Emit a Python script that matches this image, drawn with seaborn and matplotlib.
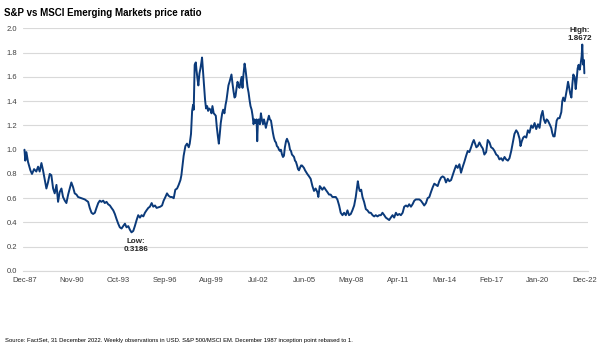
import numpy as np
import pandas as pd
import seaborn as sns
import matplotlib.pyplot as plt


# weekly S&P 500 / MSCI EM ratio (decimal years, Dec-87 = 1988.0)
years = [
    1988.00, 1988.05, 1988.12, 1988.22, 1988.37, 1988.47, 1988.60, 1988.74, 1988.85, 1988.95,
    1989.06, 1989.16, 1989.26, 1989.37, 1989.47, 1989.58, 1989.68, 1989.79, 1989.89, 1990.00,
    1990.10, 1990.20, 1990.31, 1990.41, 1990.52, 1990.62, 1990.73, 1990.83, 1990.93, 1991.04,
    1991.14, 1991.25, 1991.35, 1991.56, 1991.77, 1991.87, 1991.98, 1992.08, 1992.19, 1992.29,
    1992.40, 1992.50, 1992.61, 1992.71, 1992.81, 1992.92, 1993.02, 1993.13, 1993.23, 1993.34,
    1993.44, 1993.55, 1993.65, 1993.75, 1993.86, 1993.96, 1994.07, 1994.17, 1994.28, 1994.38,
    1994.49, 1994.59, 1994.69, 1994.80, 1994.90, 1995.01, 1995.11, 1995.22, 1995.32, 1995.43,
    1995.53, 1995.63, 1995.74, 1995.84, 1995.95, 1996.05, 1996.16, 1996.26,
    1996.49, 1996.60, 1996.70, 1996.81, 1996.91, 1997.01, 1997.12, 1997.22, 1997.33, 1997.43,
    1997.54, 1997.64, 1997.75, 1997.81, 1997.87, 1997.95, 1998.06, 1998.16, 1998.27, 1998.33,
    1998.41, 1998.48, 1998.54, 1998.58, 1998.64, 1998.71, 1998.75, 1998.81, 1998.87, 1998.94,
    1999.00, 1999.06, 1999.10, 1999.15, 1999.21, 1999.29, 1999.35, 1999.42, 1999.48, 1999.54,
    1999.63, 1999.69, 1999.75, 1999.83, 1999.90, 1999.96, 2000.02, 2000.09, 2000.15, 2000.21,
    2000.27, 2000.36, 2000.42, 2000.50, 2000.57, 2000.63, 2000.69, 2000.75, 2000.82, 2000.88,
    2000.94, 2001.00, 2001.07, 2001.13, 2001.19, 2001.26, 2001.32, 2001.38, 2001.44, 2001.51,
    2001.57, 2001.63, 2001.69, 2001.76, 2001.82, 2001.88, 2001.94, 2002.01, 2002.07, 2002.13,
    2002.20, 2002.26, 2002.32, 2002.38, 2002.45, 2002.51, 2002.55, 2002.59, 2002.65, 2002.72,
    2002.78, 2002.84, 2002.91, 2002.97, 2003.03, 2003.09, 2003.16, 2003.22, 2003.28, 2003.34,
    2003.41, 2003.47, 2003.53, 2003.59, 2003.66, 2003.72, 2003.78, 2003.85, 2003.91, 2003.97,
    2004.03, 2004.10, 2004.16, 2004.22, 2004.28, 2004.35, 2004.41, 2004.47, 2004.53, 2004.60,
    2004.66, 2004.72, 2004.79, 2004.85, 2004.91, 2004.97, 2005.04, 2005.10, 2005.16, 2005.22,
    2005.29, 2005.35, 2005.41, 2005.47, 2005.54,
    2005.68, 2005.79, 2005.89, 2006.00, 2006.10, 2006.20, 2006.31, 2006.37, 2006.46, 2006.52,
    2006.62, 2006.73, 2006.83, 2006.94, 2007.04, 2007.14, 2007.25, 2007.35, 2007.46, 2007.56,
    2007.67, 2007.77, 2007.88, 2007.98, 2008.09, 2008.19, 2008.29, 2008.40, 2008.50, 2008.61,
    2008.71, 2008.77, 2008.84, 2008.90, 2008.96, 2009.05, 2009.13, 2009.23, 2009.34, 2009.44,
    2009.55, 2009.65, 2009.76, 2009.86, 2009.96, 2010.07, 2010.17, 2010.28, 2010.38, 2010.49,
    2010.59, 2010.70, 2010.80, 2010.90, 2011.01, 2011.11, 2011.22, 2011.32, 2011.43, 2011.53,
    2011.64, 2011.74, 2011.85, 2011.95, 2012.05, 2012.16, 2012.26, 2012.37, 2012.47, 2012.58,
    2012.68, 2012.78, 2012.89, 2012.99, 2013.10, 2013.20, 2013.31, 2013.41, 2013.52, 2013.62,
    2013.73, 2013.83, 2013.93, 2014.04, 2014.14, 2014.25, 2014.35, 2014.46, 2014.56,
    2014.67, 2014.77, 2014.87, 2014.98, 2015.08, 2015.19, 2015.29, 2015.40, 2015.50, 2015.61,
    2015.71, 2015.81, 2015.92, 2016.02, 2016.09, 2016.17, 2016.25, 2016.34, 2016.44, 2016.55,
    2016.65, 2016.75, 2016.86, 2016.96, 2017.07, 2017.17, 2017.28, 2017.38, 2017.49, 2017.59,
    2017.69, 2017.80, 2017.90, 2018.01, 2018.11, 2018.22, 2018.32, 2018.43, 2018.53, 2018.63,
    2018.74, 2018.84, 2018.95, 2019.01, 2019.09, 2019.18, 2019.26, 2019.37, 2019.47, 2019.57,
    2019.68, 2019.78, 2019.89, 2019.99, 2020.10, 2020.20, 2020.30, 2020.39, 2020.47, 2020.56,
    2020.64, 2020.72, 2020.83, 2020.93, 2020.99, 2021.06, 2021.14, 2021.20, 2021.27, 2021.35,
    2021.45, 2021.56, 2021.62, 2021.68, 2021.77, 2021.83, 2021.91, 2021.98, 2022.04, 2022.12,
    2022.19, 2022.25, 2022.31, 2022.39, 2022.46, 2022.52, 2022.58, 2022.64, 2022.71, 2022.77,
    2022.83, 2022.87, 2022.91, 2022.94, 2022.97, 2023.00,
]

ratio = [
    1.00, 0.91, 0.98, 0.90, 0.83, 0.80, 0.84, 0.82, 0.86, 0.82,
    0.89, 0.83, 0.76, 0.68, 0.73, 0.80, 0.79, 0.68, 0.64, 0.71,
    0.57, 0.65, 0.68, 0.61, 0.58, 0.56, 0.63, 0.68, 0.73, 0.69,
    0.64, 0.63, 0.61, 0.60, 0.59, 0.58, 0.57, 0.52, 0.48, 0.47,
    0.48, 0.52, 0.56, 0.58, 0.57, 0.58, 0.56, 0.57, 0.55, 0.54,
    0.52, 0.50, 0.47, 0.43, 0.39, 0.36, 0.35, 0.37, 0.39, 0.36,
    0.37, 0.34, 0.3186, 0.33, 0.37, 0.42, 0.46, 0.44, 0.46, 0.45,
    0.48, 0.50, 0.52, 0.53, 0.56, 0.53, 0.54, 0.52,
    0.53, 0.54, 0.58, 0.61, 0.64, 0.62, 0.61, 0.61, 0.60, 0.67,
    0.68, 0.71, 0.75, 0.79, 0.86, 0.95, 1.03, 1.05, 1.02, 1.05,
    1.13, 1.32, 1.37, 1.33, 1.70, 1.72, 1.66, 1.59, 1.53, 1.63,
    1.67, 1.72, 1.76, 1.67, 1.56, 1.41, 1.34, 1.36, 1.32, 1.34,
    1.33, 1.30, 1.36, 1.30, 1.29, 1.28, 1.19, 1.11, 1.05, 1.13,
    1.22, 1.30, 1.33, 1.30, 1.37, 1.41, 1.47, 1.53, 1.56, 1.59,
    1.62, 1.55, 1.48, 1.43, 1.44, 1.51, 1.56, 1.53, 1.51, 1.56,
    1.60, 1.51, 1.62, 1.71, 1.66, 1.59, 1.52, 1.47, 1.41, 1.36,
    1.33, 1.28, 1.21, 1.25, 1.22, 1.25, 1.07, 1.22, 1.25, 1.21,
    1.30, 1.25, 1.21, 1.25, 1.22, 1.18, 1.22, 1.25, 1.28, 1.25,
    1.24, 1.19, 1.14, 1.10, 1.07, 1.06, 1.03, 1.02, 1.00, 0.99,
    1.00, 0.96, 0.94, 0.95, 1.02, 1.07, 1.09, 1.07, 1.05, 1.00,
    0.99, 0.96, 0.95, 0.94, 0.91, 0.90, 0.87, 0.84, 0.83, 0.85,
    0.87, 0.87, 0.86, 0.85, 0.83,
    0.80, 0.78, 0.76, 0.70, 0.66, 0.68, 0.65, 0.61, 0.70, 0.69,
    0.67, 0.69, 0.67, 0.65, 0.63, 0.63, 0.61, 0.61, 0.61, 0.59,
    0.54, 0.48, 0.46, 0.48, 0.46, 0.50, 0.46, 0.47, 0.50, 0.54,
    0.61, 0.67, 0.74, 0.69, 0.66, 0.67, 0.61, 0.57, 0.51, 0.50,
    0.48, 0.48, 0.46, 0.45, 0.46, 0.45, 0.46, 0.46, 0.48, 0.46,
    0.44, 0.43, 0.42, 0.44, 0.46, 0.44, 0.48, 0.46, 0.47, 0.46,
    0.48, 0.53, 0.54, 0.53, 0.55, 0.53, 0.55, 0.58, 0.59, 0.59,
    0.59, 0.58, 0.56, 0.54, 0.56, 0.60, 0.61, 0.65, 0.69, 0.72,
    0.71, 0.70, 0.74, 0.77, 0.78, 0.77, 0.73, 0.76, 0.74,
    0.75, 0.79, 0.83, 0.87, 0.85, 0.88, 0.81, 0.86, 0.90, 0.95,
    0.99, 0.98, 1.02, 1.06, 1.08, 1.05, 1.02, 1.03, 1.06, 1.03,
    1.01, 0.96, 0.98, 1.08, 1.06, 1.02, 1.01, 0.99, 0.96, 0.95,
    0.92, 0.93, 0.91, 0.94, 0.92, 0.91, 0.93, 0.99, 1.06, 1.13,
    1.16, 1.14, 1.09, 1.03, 1.07, 1.10, 1.11, 1.10, 1.16, 1.14,
    1.20, 1.18, 1.22, 1.17, 1.21, 1.18, 1.28, 1.32, 1.25, 1.22,
    1.25, 1.24, 1.21, 1.18, 1.14, 1.11, 1.11, 1.17, 1.24, 1.26,
    1.26, 1.31, 1.40, 1.43, 1.40, 1.44, 1.50, 1.56, 1.52, 1.46,
    1.43, 1.54, 1.62, 1.60, 1.50, 1.58, 1.67, 1.70, 1.66, 1.71,
    1.77, 1.8672, 1.73, 1.70, 1.74, 1.63,
]

tick_labels = ["Dec-87", "Nov-90", "Oct-93", "Sep-96", "Aug-99", "Jul-02", "Jun-05",
               "May-08", "Apr-11", "Mar-14", "Feb-17", "Jan-20", "Dec-22"]
y_ticks = [0.0, 0.2, 0.4, 0.6, 0.8, 1.0, 1.2, 1.4, 1.6, 1.8, 2.0]

title = "S&P vs MSCI Emerging Markets price ratio"
source = ("Source: FactSet, 31 December 2022. Weekly observations in USD. S&P 500/MSCI EM. "
          "December 1987 inception point rebased to 1.")

sns.set_style("white")
plt.rcParams["font.family"] = ["Liberation Sans", "DejaVu Sans"]

df = pd.DataFrame({"year": years, "ratio": ratio})

fig = plt.figure(figsize=(6.02, 3.51), dpi=100)
ax = fig.add_axes([0.038, 0.228, 0.938, 0.691])

sns.lineplot(data=df, x="year", y="ratio", ax=ax, color="#0B3A7A", linewidth=1.4)

ax.set_ylim(0, 2.0)
ax.set_yticks(y_ticks)
ax.set_yticklabels([f"{v:.1f}" for v in y_ticks])
ax.set_xlim(1987.9, 2023.2)
ax.set_xticks(np.linspace(years[0], years[-1], len(tick_labels)))
ax.set_xticklabels(tick_labels)
ax.set_xlabel("")
ax.set_ylabel("")

ax.grid(axis="y", color="#D9D9D9", linewidth=0.8)
ax.grid(axis="x", visible=False)
ax.set_axisbelow(True)
for side in ["top", "right", "left"]:
    ax.spines[side].set_visible(False)
ax.spines["bottom"].set_color("#D9D9D9")
ax.spines["bottom"].set_linewidth(0.8)
ax.tick_params(axis="both", length=0, labelsize=5.5, colors="#404040")
ax.tick_params(axis="x", pad=4)
ax.tick_params(axis="y", pad=4)

# low / high call-outs
i_low = int(np.argmin(ratio))
i_high = int(np.argmax(ratio))
ax.annotate(f"Low:\n{ratio[i_low]:.4f}", xy=(years[i_low], ratio[i_low]),
            xytext=(3, -4), textcoords="offset points", ha="center", va="top",
            fontsize=5.8, fontweight="bold", color="#262626", linespacing=1.3)
ax.annotate(f"High:\n{ratio[i_high]:.4f}", xy=(years[i_high], ratio[i_high]),
            xytext=(-1.5, 1.5), textcoords="offset points", ha="center", va="bottom",
            fontsize=5.8, fontweight="bold", color="#262626", linespacing=1.3)

fig.text(0.007, 0.964, title, fontsize=7, fontweight="bold", va="center", color="#000000")
fig.text(0.0075, 0.0285, source, fontsize=4.2, va="center", color="#000000")

plt.savefig("out.png", dpi=100)
